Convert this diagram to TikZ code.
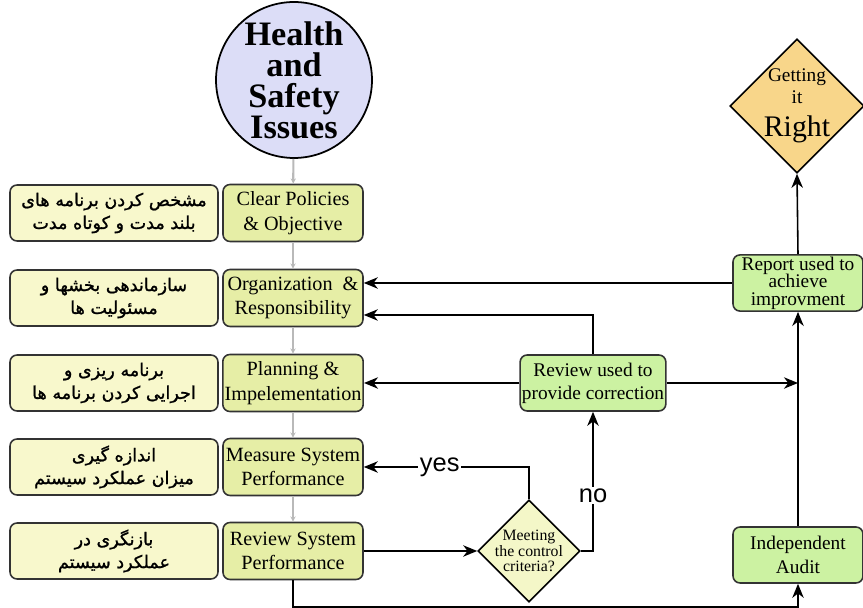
\documentclass[tikz,border=0pt]{standalone}
\usepackage{fontspec}
\setmainfont{Liberation Serif}
\newfontfamily\persfont[Script=Arabic,FakeBold=1.2]{DejaVu Sans}
\newfontfamily\labfont{Liberation Sans}
\TeXXeTstate=1
\usetikzlibrary{shapes.geometric,arrows.meta,positioning}

\definecolor{hsblue}{HTML}{DCDDF7}
\definecolor{persyel}{HTML}{F8F8CC}
\definecolor{stepyel}{HTML}{E6EEA6}
\definecolor{actgrn}{HTML}{CCF2A2}
\definecolor{girorg}{HTML}{F8D68A}
\definecolor{mccyel}{HTML}{F4F7C8}

\begin{document}
\begin{tikzpicture}[x=0.02cm,y=0.02cm]
  \tikzset{
    pbox/.style={draw=black!80, line width=0.9pt, rounded corners=4pt, fill=persyel,
      minimum width=4.16cm, minimum height=1.12cm, align=center, inner sep=1pt,
      font=\persfont\fontsize{10}{13}\selectfont},
    ebox/.style={draw=black!80, line width=0.9pt, rounded corners=4pt, fill=stepyel,
      minimum width=2.8cm, minimum height=1.14cm, align=center, inner sep=1pt,
      font=\fontsize{11.5}{14}\selectfont},
    gbox/.style={draw=black!80, line width=0.9pt, rounded corners=4pt, fill=actgrn,
      minimum width=2.82cm, minimum height=1.12cm, align=center, inner sep=1pt,
      font=\fontsize{11}{13}\selectfont},
    diam/.style={diamond, draw=black, line width=0.9pt, inner sep=0pt},
    arr/.style={draw=black, line width=0.9pt, -{Stealth[length=8pt,width=6.5pt,inset=2.5pt]}},
    link/.style={draw=gray!55, line width=1.2pt, -{Stealth[length=3pt,width=3pt]}},
    yn/.style={fill=white, inner sep=1pt, font=\labfont\fontsize{14.5}{14.5}\selectfont}
  }
  \useasboundingbox (0,0) rectangle (863,608);

  % the issue on top
  \node[circle, draw=black, line width=1pt, fill=hsblue, minimum size=3.12cm, inner sep=0pt,
        align=center, font=\bfseries\fontsize{19.5}{17.6}\selectfont] (hs) at (294,528)
        {Health\\and\\Safety\\Issues};

  % the five steps, english and persian
  \foreach \i/\y/\etxt/\ptxt in {
    1/395/{Clear Policies\\\& Objective}/{\beginR مشخص کردن برنامه های\endR\\\beginR بلند مدت و کوتاه مدت\endR},
    2/310/{Organization \ \&\\Responsibility}/{\beginR سازماندهی بخشها و\endR\\\beginR مسئولیت ها\endR},
    3/225/{Planning \&\\Impelementation}/{\beginR برنامه ریزی و\endR\\\beginR اجرایی کردن برنامه ها\endR},
    4/141/{Measure System\\Performance}/{\beginR اندازه گیری\endR\\\beginR میزان عملکرد سیستم\endR},
    5/57/{Review System\\Performance}/{\beginR بازنگری در\endR\\\beginR عملکرد سیستم\endR}} {
    \node[pbox] (p\i) at (114,\y) {\ptxt};
    \node[ebox] (m\i) at (293,\y) {\etxt};
  }

  % grey links down the middle column
  \draw[link] (hs) -- (m1);
  \foreach \i in {1,...,4} {
    \pgfmathtruncatemacro{\j}{\i+1}
    \draw[link] (m\i) -- (m\j);
  }

  % right hand side
  \node[diam, fill=girorg, minimum width=2.68cm, minimum height=2.68cm] (gir) at (797,502) {};
  \node[align=center, inner sep=0pt, font=\fontsize{11}{12.5}\selectfont] (girtxt) at (gir.center)
    {Getting\\it\\[6pt]{\fontsize{17}{17}\selectfont Right}};
  \node[gbox, minimum width=2.6cm, font=\fontsize{11}{10}\selectfont] (rep) at (798,325)
    {Report used to\\achieve\\improvment};
  \node[gbox] (rvu) at (593,225) {Review used to\\provide correction};
  \node[gbox, minimum width=2.6cm, font=\fontsize{11}{13.5}\selectfont] (aud) at (798,53)
    {Independent\\Audit};
  \node[diam, fill=mccyel, minimum width=2.04cm, minimum height=2.04cm] (mcc) at (529,57) {};
  \node[align=center, inner sep=0pt, font=\fontsize{9}{9}\selectfont] (mcctxt) at (mcc.center)
    {Meeting\\the control\\criteria?};

  % connectors
  \draw[arr] (rep.north) -- (gir.south);
  \draw[arr] (rep.west) -- (rep.west -| m2.east);
  \draw[arr] (rvu.north) |- ([yshift=-0.34cm]m2.east);
  \draw[arr] (rvu.west) -- (m3.east);
  \draw[arr] (rvu.east) -- (rvu.east -| aud.north);
  \draw[arr] (aud.north) -- (rep.south);
  \draw[arr] (m5.east) -- (mcc.west);
  \draw[arr] (mcc.north) |- node[yn, pos=0.77] (yes) {yes} (m4.east);
  \draw[arr] (mcc.east) -| node[yn, pos=0.7] (no) {no} (rvu.south);
  \draw[arr] (m5.south) -- ++(0,-27) -| (aud.south);

\end{tikzpicture}
\end{document}
